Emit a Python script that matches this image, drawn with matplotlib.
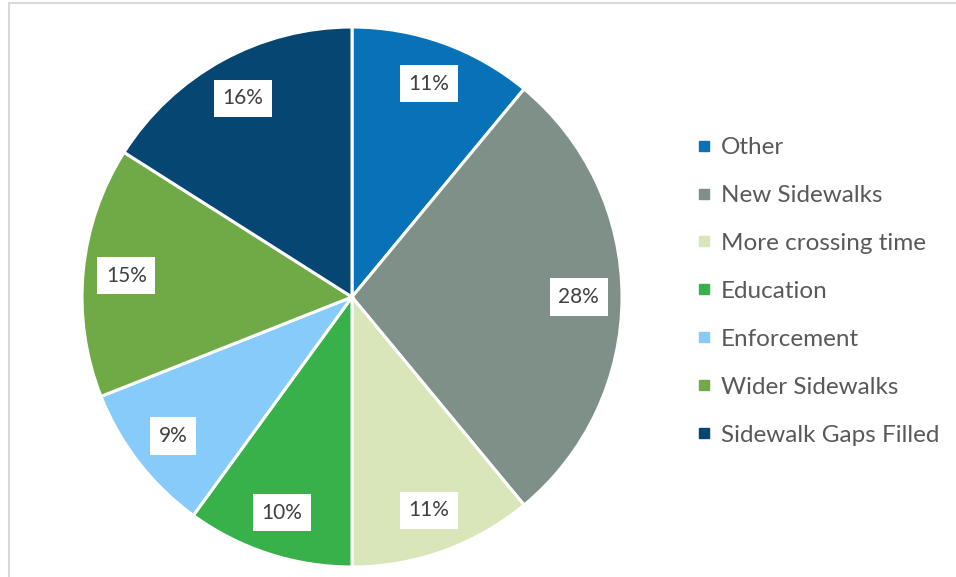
import matplotlib
matplotlib.use("Agg")
import matplotlib.pyplot as plt
from matplotlib.lines import Line2D
from matplotlib.patches import Rectangle

categories = ["Other", "New Sidewalks", "More crossing time", "Education",
              "Enforcement", "Wider Sidewalks", "Sidewalk Gaps Filled"]
values = [11, 28, 11, 10, 9, 15, 16]
colors = ["#0872B9", "#7F9088", "#D8E6B9", "#38B14A", "#86CBFA", "#70AA46", "#064672"]

plt.rcParams['font.family'] = ['Lato', 'DejaVu Sans']

W, H = 956, 577
fig = plt.figure(figsize=(W / 100, H / 100), dpi=100)
fig.patch.set_facecolor("white")

# border
fig.add_artist(Rectangle((9 / W, -0.1), 1.2, (H - 3) / H + 0.1, transform=fig.transFigure,
                         fill=False, edgecolor="#D9D9D9", linewidth=1.5))

cx, cy, r = 352, 297, 270
ax = fig.add_axes([(cx - r) / W, (H - cy - r) / H, 2 * r / W, 2 * r / H])
wedges, texts = ax.pie(values, colors=colors, startangle=90, counterclock=False,
                       labels=[f"{v}%" for v in values], labeldistance=0.84,
                       wedgeprops=dict(edgecolor="white", linewidth=2.2),
                       textprops=dict(fontsize=15, color="#404040"))
for t in texts:
    t.set_ha("center")
    t.set_va("center")
    t.set_bbox(dict(boxstyle="square,pad=0.42", facecolor="white", edgecolor="none"))
ax.set_xlim(-1, 1)
ax.set_ylim(-1, 1)
ax.axis("off")

handles = [Line2D([0], [0], marker="s", linestyle="none", markersize=7,
                  markerfacecolor=c, markeredgecolor=c) for c in colors]
fig.legend(handles, categories, loc="upper left", bbox_to_anchor=(698 / W, 1 - 137 / H),
           frameon=False, fontsize=17.5, labelcolor="#595959", handlelength=0.5,
           handletextpad=0.45, labelspacing=1.11, borderaxespad=0, borderpad=0)

fig.savefig("out.png", dpi=100, facecolor="white")
